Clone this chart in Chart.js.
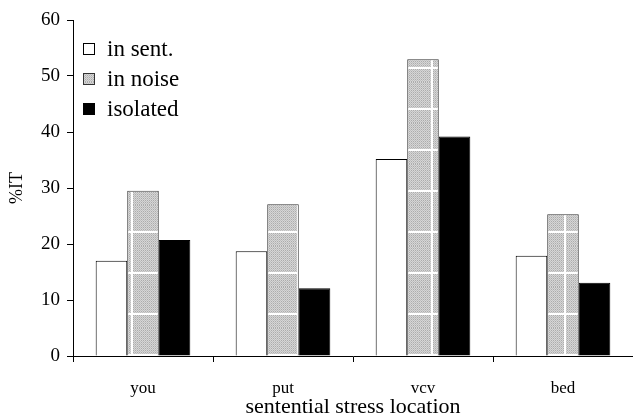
<!DOCTYPE html>
<html>
<head>
<meta charset="utf-8">
<script src="https://cdn.jsdelivr.net/npm/chart.js@4"></script>
<style>
  html, body { margin: 0; padding: 0; background: #fff; }
  #wrap { width: 633px; height: 418px; }
</style>
</head>
<body>
<div id="wrap"><canvas id="stressChart"></canvas></div>
<script>
// ─── DATA ───
const categories = ['you', 'put', 'vcv', 'bed'];
const seriesNames = ['in sent.', 'in noise', 'isolated'];
const inSentence = [17.0, 18.7, 35.2, 17.9];
const inNoise = [29.5, 27.1, 53.0, 25.3];
const isolated = [20.7, 12.1, 39.2, 13.1];
const yMin = 0, yMax = 60, yStep = 10;

const SERIF = "'Liberation Serif', 'Times New Roman', serif";
Chart.defaults.color = '#000';
Chart.defaults.font.family = SERIF;

// ─── STIPPLED FILL FOR THE "IN NOISE" BARS ───
function makeNoisePattern(ctx) {
    const tile = document.createElement('canvas');
    tile.width = 100;
    tile.height = 41;
    const g = tile.getContext('2d');
    for (let y = 0; y < tile.height; y++) {
        for (let x = 0; x < tile.width; x++) {
            let c;
            if ((x + y) % 2 === 0) c = 214;
            else c = (y % 2 === 0) ? 172 : 192;
            g.fillStyle = 'rgb(' + c + ',' + c + ',' + c + ')';
            g.fillRect(x, y, 1, 1);
        }
    }
    g.fillStyle = '#fff';
    [31, 64, 97].forEach(x => g.fillRect(x, 0, 2, tile.height));
    g.fillRect(0, 26, tile.width, 2);
    return ctx.createPattern(tile, 'repeat');
}

// ─── LEGEND INSIDE THE PLOT, TOP LEFT ───
const insideLegend = {
    id: 'insideLegend',
    afterDraw(chart) {
        const c = chart.ctx;
        const area = chart.chartArea;
        c.save();
        c.font = '23px ' + SERIF;
        c.textBaseline = 'middle';
        c.textAlign = 'left';
        chart.data.datasets.forEach((ds, i) => {
            const cy = area.top + 29 + i * 30;
            const bx = area.left + 10;
            c.fillStyle = ds.backgroundColor;
            c.fillRect(bx, cy - 6, 12, 12);
            c.strokeStyle = ds.borderColor;
            c.lineWidth = 1;
            c.strokeRect(bx + 0.5, cy - 5.5, 11, 11);
            c.fillStyle = '#000';
            c.fillText(ds.label, bx + 24, cy + 1);
        });
        c.restore();
    }
};

const ctx = document.getElementById('stressChart').getContext('2d');
const noiseFill = makeNoisePattern(ctx);

// ─── CREATE THE CHART ───
const stressChart = new Chart(ctx, {
    type: 'bar',
    data: {
        labels: categories,
        datasets: [
            {
                label: seriesNames[0],
                data: inSentence,
                backgroundColor: '#fff',
                borderColor: '#000',
                borderWidth: 1
            },
            {
                label: seriesNames[1],
                data: inNoise,
                backgroundColor: noiseFill,
                borderColor: '#333',
                borderWidth: 1
            },
            {
                label: seriesNames[2],
                data: isolated,
                backgroundColor: '#000',
                borderColor: '#000',
                borderWidth: 1
            }
        ]
    },
    options: {
        responsive: true,
        maintainAspectRatio: false,
        animation: false,
        layout: { padding: { top: 20, right: 0, left: 0, bottom: 0 } },
        datasets: {
            bar: { categoryPercentage: 0.676, barPercentage: 1.0 }
        },
        scales: {
            x: {
                grid: { drawOnChartArea: false, tickLength: 6, color: '#000', offset: true },
                border: { display: true, color: '#000', width: 1 },
                ticks: { font: { family: SERIF, size: 17 }, padding: 16 },
                title: {
                    display: true,
                    text: 'sentential stress location',
                    font: { family: SERIF, size: 22, lineHeight: 1 },
                    padding: { top: 0, bottom: 0 }
                },
                afterFit: s => { s.height = 62; }
            },
            y: {
                min: yMin,
                max: yMax,
                grid: { drawOnChartArea: false, tickLength: 6, color: '#000' },
                border: { display: true, color: '#000', width: 1 },
                ticks: { stepSize: yStep, font: { family: SERIF, size: 19 }, padding: 7 },
                title: {
                    display: true,
                    text: '%IT',
                    font: { family: SERIF, size: 18 },
                    padding: { top: 6, bottom: 0 }
                },
                afterFit: s => { s.width = 73; }
            }
        },
        plugins: {
            legend: { display: false },
            tooltip: { enabled: false }
        }
    },
    plugins: [insideLegend]
});
</script>
</body>
</html>
